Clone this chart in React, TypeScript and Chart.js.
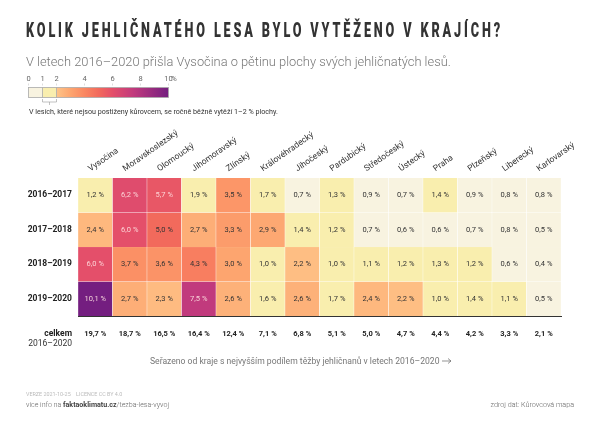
import { useEffect, useRef } from "react"
import { Chart, registerables, Plugin } from "chart.js"

Chart.register(...registerables)

const regions = ["Vysočina", "Moravskoslezský", "Olomoucký", "Jihomoravský", "Zlínský", "Královéhradecký", "Jihočeský", "Pardubický", "Středočeský", "Ústecký", "Praha", "Plzeňský", "Liberecký", "Karlovarský"]
const periods = ["2016–2017", "2017–2018", "2018–2019", "2019–2020"]

const values2016 = [1.2, 6.2, 5.7, 1.9, 3.5, 1.7, 0.7, 1.3, 0.9, 0.7, 1.4, 0.9, 0.8, 0.8]
const values2017 = [2.4, 6.0, 5.0, 2.7, 3.3, 2.9, 1.4, 1.2, 0.7, 0.6, 0.6, 0.7, 0.8, 0.5]
const values2018 = [6.0, 3.7, 3.6, 4.3, 3.0, 1.0, 2.2, 1.0, 1.1, 1.2, 1.3, 1.2, 0.6, 0.4]
const values2019 = [10.1, 2.7, 2.3, 7.5, 2.6, 1.6, 2.6, 1.7, 2.4, 2.2, 1.0, 1.4, 1.1, 0.5]
const totals = ["19,7 %", "18,7 %", "16,5 %", "16,4 %", "12,4 %", "7,1 %", "6,8 %", "5,1 %", "5,0 %", "4,7 %", "4,4 %", "4,2 %", "3,3 %", "2,1 %"]

const legendTicks = ["0", "1", "2", "4", "6", "8", "10"]
const legendTickValues = [0, 1, 2, 4, 6, 8, 10]

const CREAM = "#f8f3e0"
const YELLOW = "#f9eeae"
// value -> colour
const rampStops: Array<[number, number[]]> = [
  [2, [254, 196, 136]],
  [3, [253, 165, 111]],
  [4, [250, 135, 97]],
  [5, [242, 106, 92]],
  [6, [228, 79, 106]],
  [7.5, [193, 58, 125]],
  [10, [116, 30, 128]],
]

const cellColor = (v: number) => {
  if (v < 1) return CREAM
  if (v < 2) return YELLOW
  for (let i = 1; i < rampStops.length; i++) {
    const [a, ca] = rampStops[i - 1]
    const [b, cb] = rampStops[i]
    if (v <= b) {
      const t = (v - a) / (b - a)
      return `rgb(${ca.map((c, k) => Math.round(c + (cb[k] - c) * t)).join(",")})`
    }
  }
  return "rgb(116,30,128)"
}

const fmt = (v: number) => v.toFixed(1).replace(".", ",") + " %"

const text = (ctx: CanvasRenderingContext2D, s: string, x: number, y: number, font: string, color: string, align: CanvasTextAlign = "left") => {
  ctx.font = font
  ctx.fillStyle = color
  ctx.textAlign = align
  ctx.textBaseline = "alphabetic"
  ctx.fillText(s, x, y)
}

const cellLabels: Plugin<"bar"> = {
  id: "cellLabels",
  afterDatasetsDraw(chart) {
    const ctx = chart.ctx
    ctx.save()
    ctx.textBaseline = "middle"
    chart.data.datasets.forEach((ds, i) => {
      ctx.font = "7.5px Roboto"
      ctx.textAlign = "center"
      const meta = chart.getDatasetMeta(i)
      meta.data.forEach((bar, j) => {
        const v = (ds.data[j] as any).v as number
        const p = bar.getCenterPoint()
        ctx.fillStyle = v >= 5.5 ? "rgba(255,225,225,0.9)" : "#333"
        ctx.fillText(fmt(v), p.x, p.y)
      })
      // row label, level with the row's cells
      ctx.font = "bold 8.5px Roboto"
      ctx.textAlign = "right"
      ctx.fillStyle = "#222"
      ctx.fillText(periods[i], chart.chartArea.left - 6, meta.data[0].getCenterPoint().y)
    })
    ctx.restore()
  },
}

const TITLE = "KOLIK JEHLIČNATÉHO LESA BYLO VYTĚŽENO V KRAJÍCH?"

const annotations: Plugin<"bar"> = {
  id: "annotations",
  afterDraw(chart) {
    const ctx = chart.ctx
    ctx.save()

    // title: no condensed face installed, so squeeze Roboto black to the same width
    ctx.save()
    ;(ctx as any).letterSpacing = "4.4px"
    ctx.font = "900 19.5px Roboto"
    const sx = 477 / ctx.measureText(TITLE).width
    ctx.translate(26, 37)
    ctx.scale(sx, 1)
    text(ctx, TITLE, 0, 0, "900 19.5px Roboto", "#333")
    ctx.restore()
    text(ctx, "V letech 2016–2020 přišla Vysočina o pětinu plochy svých jehličnatých lesů.", 26, 66, "300 12.85px Roboto", "#777")

    // colour legend
    const lx = (v: number) => 28.5 + v * 14
    const top = 87.5
    const h = 10
    ctx.fillStyle = CREAM
    ctx.fillRect(lx(0), top, lx(1) - lx(0), h)
    ctx.fillStyle = YELLOW
    ctx.fillRect(lx(1), top, lx(2) - lx(1), h)
    const grad = ctx.createLinearGradient(lx(2), 0, lx(10), 0)
    rampStops.forEach(([v, c]) => grad.addColorStop((v - 2) / 8, `rgb(${c.join(",")})`))
    ctx.fillStyle = grad
    ctx.fillRect(lx(2), top, lx(10) - lx(2), h)
    ctx.strokeStyle = "#aaa"
    ctx.lineWidth = 0.8
    ctx.strokeRect(lx(0), top, lx(10) - lx(0), h)
    ctx.beginPath()
    ;[1, 2].forEach((v) => {
      ctx.moveTo(lx(v), top)
      ctx.lineTo(lx(v), top + h)
    })
    ctx.stroke()
    legendTicks.forEach((t, i) => {
      const x = lx(legendTickValues[i])
      text(ctx, t, x, 81, "7.5px Roboto", "#666", "center")
      ctx.strokeStyle = "#bbb"
      ctx.lineWidth = 0.5
      ctx.beginPath()
      ctx.moveTo(x, 83.5)
      ctx.lineTo(x, 85.5)
      ctx.stroke()
    })
    text(ctx, "%", 174, 81, "7.5px Roboto", "#666", "center")
    // bracket under 1-2
    ctx.strokeStyle = "#999"
    ctx.lineWidth = 0.6
    ctx.beginPath()
    ctx.moveTo(lx(1), 99)
    ctx.lineTo(lx(1), 102)
    ctx.lineTo(lx(2), 102)
    ctx.lineTo(lx(2), 99)
    ctx.moveTo(lx(1.5), 102)
    ctx.lineTo(lx(1.5), 105)
    ctx.stroke()
    text(ctx, "V lesích, které nejsou postiženy kůrovcem, se ročně běžně vytěží 1–2 % plochy.", 29, 114, "7.15px Roboto", "#333")

    // totals row caption
    text(ctx, "celkem", 72, 336, "bold 8.5px Roboto", "#222", "right")
    text(ctx, "2016–2020", 72, 346, "8.5px Roboto", "#333", "right")

    // sort note
    text(ctx, "Seřazeno od kraje s nejvyšším podílem těžby jehličnanů v letech 2016–2020", 150, 364, "8.6px Roboto", "#777")
    ctx.strokeStyle = "#666"
    ctx.lineWidth = 0.7
    ctx.beginPath()
    ctx.moveTo(442, 361)
    ctx.lineTo(451, 361)
    ctx.moveTo(448, 358.5)
    ctx.lineTo(451, 361)
    ctx.lineTo(448, 363.5)
    ctx.stroke()

    // footer
    text(ctx, "VERZE 2021-10-25    LICENCE CC BY 4.0", 26, 396, "5.4px Roboto", "#bbb")
    text(ctx, "více info na ", 26, 407, "300 7.1px Roboto", "#666")
    const w1 = ctx.measureText("více info na ").width
    text(ctx, "faktaoklimatu.cz", 26 + w1, 407, "bold 7.1px Roboto", "#444")
    const w2 = ctx.measureText("faktaoklimatu.cz").width
    text(ctx, "/tezba-lesa-vyvoj", 26 + w1 + w2, 407, "300 7.1px Roboto", "#666")
    text(ctx, "zdroj dat: Kůrovcová mapa", 574, 407, "300 7.2px Roboto", "#666", "right")

    ctx.restore()
  },
}

const rows = [values2016, values2017, values2018, values2019]

const App = () => {
  const chartRef = useRef<HTMLCanvasElement>(null)

  useEffect(() => {
    if (!chartRef.current) return
    const chart = new Chart(chartRef.current, {
      type: "bar",
      data: {
        labels: regions,
        datasets: rows.map((row, r) => ({
          label: periods[r],
          data: row.map((v, i) => ({ x: regions[i], y: 1, v })) as any,
          backgroundColor: (c: any) => cellColor(c.raw.v),
          borderColor: "rgba(255,255,255,0.75)",
          borderWidth: { left: 0.5, right: 0.5, top: 0.25, bottom: 0.25 },
          borderSkipped: false,
          barPercentage: 1,
          categoryPercentage: 1,
          stack: "all",
        })),
      },
      options: {
        animation: false,
        responsive: true,
        maintainAspectRatio: false,
        layout: { padding: { right: 39, left: 78, top: 0, bottom: 0 } },
        plugins: { legend: { display: false }, tooltip: { enabled: false } },
        scales: {
          x: {
            position: "top",
            stacked: true,
            grid: { display: false },
            border: { display: false },
            ticks: { color: "#333", font: { family: "Roboto", size: 8.5 }, minRotation: 35, maxRotation: 35, autoSkip: false, padding: -4 },
            afterFit: (s: any) => { s.height = 178 },
          },
          x2: {
            type: "category",
            position: "bottom",
            labels: totals,
            offset: true,
            grid: { display: false, drawTicks: false },
            border: { display: true, color: "#333", width: 1 },
            ticks: { color: "#222", font: { family: "Roboto", size: 7.5, weight: "bold" }, autoSkip: false, maxRotation: 0, padding: 14 },
            afterFit: (s: any) => { s.height = 108 },
          },
          y: {
            display: false,
            stacked: true,
            reverse: true,
            min: 0,
            max: 4,
          },
        } as any,
      },
      plugins: [cellLabels, annotations],
    })
    return () => chart.destroy()
  }, [])

  return (
    <div style={{ position: "absolute", left: 0, top: 0, width: 600, height: 424, background: "#fff" }}>
      <canvas ref={chartRef}></canvas>
    </div>
  )
}

export default App
